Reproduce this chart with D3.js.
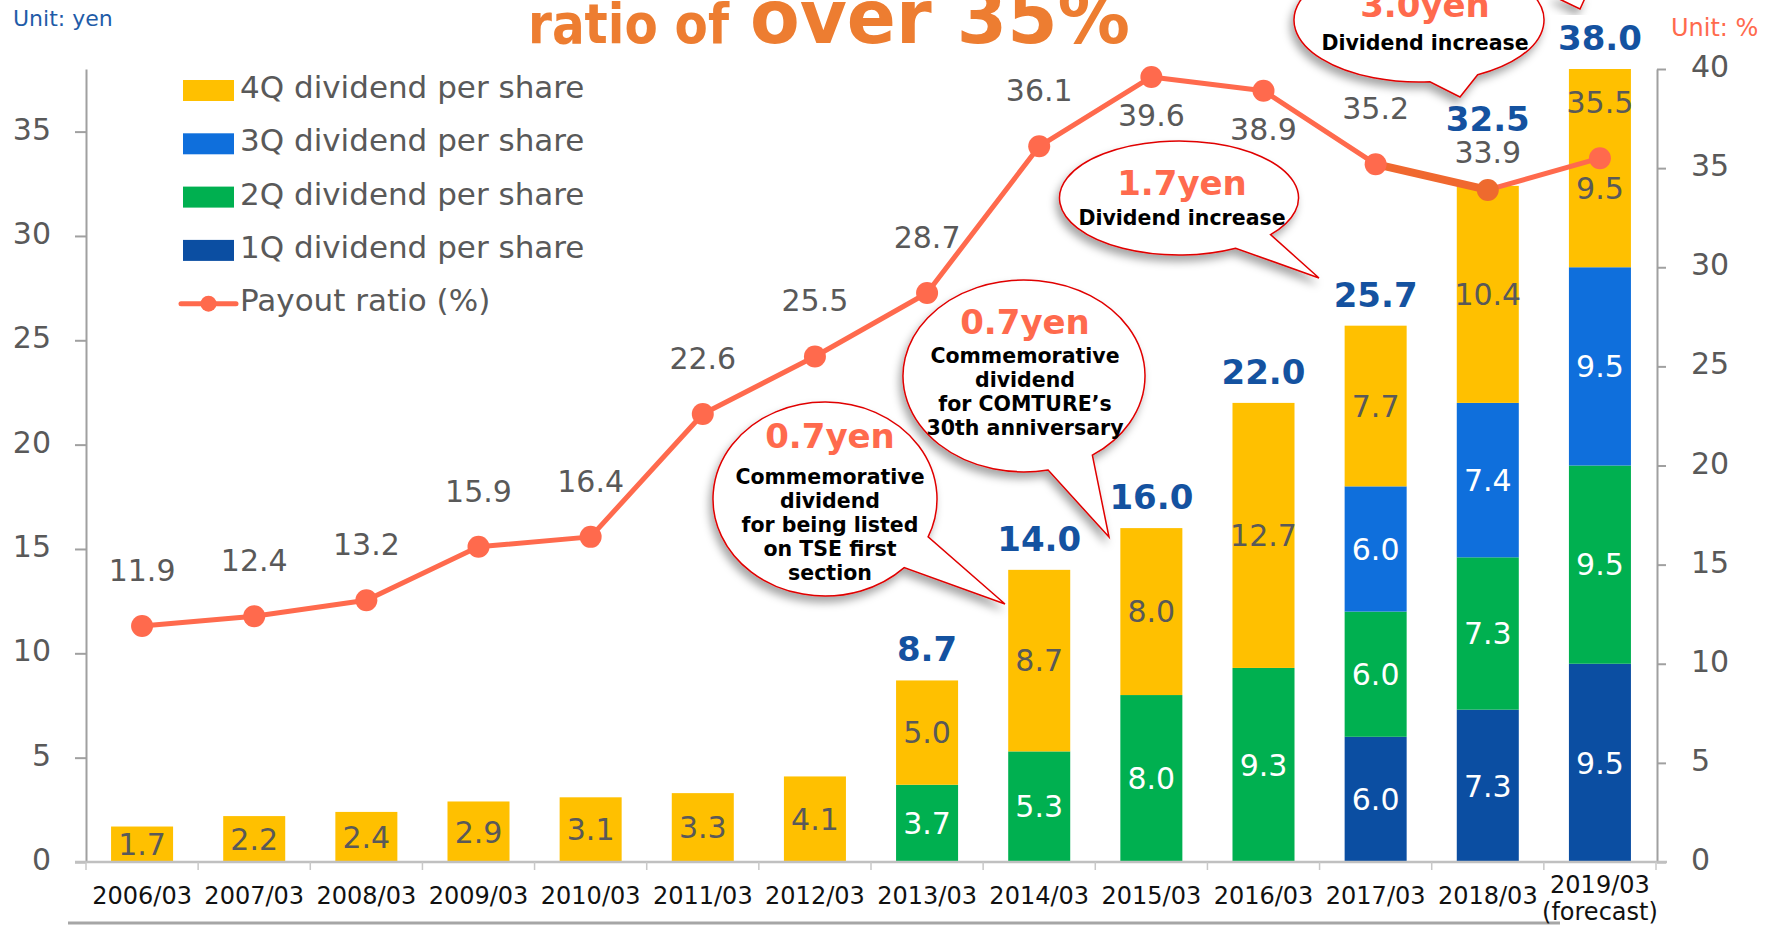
<!DOCTYPE html>
<html>
<head>
<meta charset="utf-8">
<script src="https://cdn.jsdelivr.net/npm/d3@7"></script>
<style>
  body { margin: 0; background: #fff; }
  svg text { font-family: "DejaVu Sans", Verdana, sans-serif; }
</style>
</head>
<body>
<div id="chart"></div>
<script>
// fiscal years on the x axis
const categories = ["2006/03", "2007/03", "2008/03", "2009/03", "2010/03", "2011/03", "2012/03",
                    "2013/03", "2014/03", "2015/03", "2016/03", "2017/03", "2018/03", "2019/03"];
const forecastCats = ["2019/03"];

// dividend per share by quarter (yen)
const q1 = [0, 0, 0, 0, 0, 0, 0, 0, 0, 0, 0, 6.0, 7.3, 9.5];
const q2 = [0, 0, 0, 0, 0, 0, 0, 3.7, 5.3, 8.0, 9.3, 6.0, 7.3, 9.5];
const q3 = [0, 0, 0, 0, 0, 0, 0, 0, 0, 0, 0, 6.0, 7.4, 9.5];
const q4 = [1.7, 2.2, 2.4, 2.9, 3.1, 3.3, 4.1, 5.0, 8.7, 8.0, 12.7, 7.7, 10.4, 9.5];

// annual totals printed above the bars
const totals = [null, null, null, null, null, null, null, 8.7, 14.0, 16.0, 22.0, 25.7, 32.5, 38.0];

// payout ratio (%)
const payout = [11.9, 12.4, 13.2, 15.9, 16.4, 22.6, 25.5, 28.7, 36.1, 39.6, 38.9, 35.2, 33.9, 35.5];
// the stretch of the payout line drawn heavier
const emphasis = ["2017/03", "2018/03"];

const leftTicks = [0, 5, 10, 15, 20, 25, 30, 35];
const rightTicks = [0, 5, 10, 15, 20, 25, 30, 35, 40];

const W = 1771, H = 925;
const colors = { q1: "#0B4EA2", q2: "#00B050", q3: "#0F6FDC", q4: "#FFC000" };
const lineColor = "#FF6A4D";
const grey = "#595959";

const svg = d3.select("#chart").append("svg")
    .attr("width", W)
    .attr("height", H)
    .style("background", "#fff");

const defs = svg.append("defs");
defs.append("filter")
    .attr("id", "shadow")
    .attr("x", "-30%").attr("y", "-30%")
    .attr("width", "160%").attr("height", "170%")
  .append("feDropShadow")
    .attr("dx", -3).attr("dy", 6)
    .attr("stdDeviation", 4)
    .attr("flood-color", "#000")
    .attr("flood-opacity", 0.35);

// scales
const x = d3.scaleBand()
    .domain(categories)
    .range([86, 1656])
    .paddingInner(0.447)
    .paddingOuter(0.2235);
const yL = d3.scaleLinear().domain([0, 38]).range([862, 69]);
const yR = d3.scaleLinear().domain([0, 40]).range([862, 69]);
const bw = x.bandwidth();
const cx = c => x(c) + bw / 2;

// stacked bars
const rows = categories.map((c, i) => ({ cat: c, q1: q1[i], q2: q2[i], q3: q3[i], q4: q4[i] }));
const keys = ["q1", "q2", "q3", "q4"];
const series = d3.stack().keys(keys)(rows);

const barG = svg.append("g").attr("class", "bars");
series.forEach(s => {
    barG.selectAll(null)
        .data(s.filter(d => d[1] - d[0] > 0))
        .enter().append("rect")
        .attr("x", d => x(d.data.cat))
        .attr("width", bw)
        .attr("y", d => yL(d[1]))
        .attr("height", d => yL(d[0]) - yL(d[1]))
        .attr("fill", colors[s.key]);
});

// slide bottom rule
svg.append("line")
    .attr("x1", 68).attr("x2", 1560)
    .attr("y1", 923).attr("y2", 923)
    .attr("stroke", "#A6A6A6")
    .attr("stroke-width", 3);

// left axis
const axL = svg.append("g")
    .attr("transform", "translate(86,0)")
    .call(d3.axisLeft(yL).tickValues(leftTicks).tickSize(11).tickSizeOuter(0).tickPadding(24));
// right axis
const axR = svg.append("g")
    .attr("transform", "translate(1657,0)")
    .call(d3.axisRight(yR).tickValues(rightTicks).tickSize(9).tickSizeOuter(0).tickPadding(25));

[axL, axR].forEach(ax => {
    ax.selectAll("path, line").attr("stroke", "#A0A0A0").attr("stroke-width", 2);
    ax.selectAll("text")
        .attr("fill", grey)
        .style("font-size", "30px")
        .attr("dy", "0.25em");
});

// bottom axis: line, boundary ticks, labels
svg.append("line")
    .attr("x1", 75).attr("x2", 1667)
    .attr("y1", 862).attr("y2", 862)
    .attr("stroke", "#C0C0C0")
    .attr("stroke-width", 2.5);

const gap = (x.step() - bw) / 2;
const bounds = categories.map(c => x(c) - gap).concat([x(categories[categories.length - 1]) + bw + gap]);
svg.append("g").selectAll("line")
    .data(bounds)
    .enter().append("line")
    .attr("x1", d => d).attr("x2", d => d)
    .attr("y1", 862).attr("y2", 870)
    .attr("stroke", "#C8C8C8")
    .attr("stroke-width", 1.5);

const axB = svg.append("g")
    .attr("transform", "translate(0,862)")
    .call(d3.axisBottom(x).tickSize(0).tickPadding(25));
axB.select(".domain").remove();
axB.selectAll("text")
    .attr("fill", "#111")
    .style("font-size", "24px");
axB.selectAll(".tick")
    .filter(d => forecastCats.includes(d))
    .select("text")
    .attr("y", null).attr("dy", null)
    .text(null)
    .call(t => {
        t.append("tspan").attr("x", 0).attr("y", 31).text(d => d);
        t.append("tspan").attr("x", 0).attr("y", 58).text("(forecast)");
    });

// payout ratio line
const pts = categories.map((c, i) => ({ cat: c, v: payout[i], px: cx(c), py: yR(payout[i]) }));
const line = d3.line().x(d => d.px).y(d => d.py);

svg.append("path")
    .datum(pts)
    .attr("fill", "none")
    .attr("stroke", lineColor)
    .attr("stroke-width", 5)
    .attr("stroke-linejoin", "round")
    .attr("d", line);

svg.append("path")
    .datum(pts.filter(p => emphasis.includes(p.cat)))
    .attr("fill", "none")
    .attr("stroke", "#F0682F")
    .attr("stroke-width", 8)
    .attr("d", line);

svg.append("g").selectAll("circle")
    .data(pts)
    .enter().append("circle")
    .attr("cx", d => d.px)
    .attr("cy", d => d.py)
    .attr("r", 11)
    .attr("fill", d => d.cat === emphasis[emphasis.length - 1] ? "#EE6A2E" : lineColor);

// segment labels (nudged below the payout dot when they would overlap it)
const segLabels = [];
series.forEach(s => {
    s.forEach((d, i) => {
        if (d[1] - d[0] <= 0) return;
        let cy = (yL(d[0]) + yL(d[1])) / 2;
        if (Math.abs(cy - pts[i].py) < 20) cy = pts[i].py + 30;
        segLabels.push({ x: cx(d.data.cat), y: cy, v: d[1] - d[0], key: s.key });
    });
});
svg.append("g").selectAll("text")
    .data(segLabels)
    .enter().append("text")
    .attr("x", d => d.x)
    .attr("y", d => d.y)
    .attr("dy", "0.36em")
    .attr("text-anchor", "middle")
    .attr("fill", d => d.key === "q4" ? grey : "#fff")
    .style("font-size", "30px")
    .text(d => d.v.toFixed(1));

// payout labels: above the dot, below if it would run into the title area
pts.forEach(p => {
    p.ly = p.py - 45 - 22 < 70 ? p.py + 49 : p.py - 45;
});

// totals above the bars; when a total meets the payout label, pull the
// payout label closer to its dot and lift the total above it
const totLabels = categories.map((c, i) => {
    if (totals[i] == null) return null;
    const top = yL(q1[i] + q2[i] + q3[i] + q4[i]);
    let y = top - 19;
    const p = pts[i];
    if (p.ly < p.py && y - 26 < p.ly + 8 && y > p.ly - 30) {
        p.ly = p.py - 27;
        y = p.ly - 32;
    }
    return { x: cx(c), y: y, v: totals[i] };
}).filter(d => d);

svg.append("g").selectAll("text")
    .data(pts)
    .enter().append("text")
    .attr("x", d => d.px)
    .attr("y", d => d.ly)
    .attr("text-anchor", "middle")
    .attr("fill", grey)
    .style("font-size", "30px")
    .text(d => d.v.toFixed(1));

svg.append("g").selectAll("text")
    .data(totLabels)
    .enter().append("text")
    .attr("x", d => d.x)
    .attr("y", d => d.y)
    .attr("text-anchor", "middle")
    .attr("fill", "#1452A0")
    .attr("font-weight", "bold")
    .style("font-size", "34px")
    .text(d => d.v.toFixed(1));

// legend
const legendItems = [
    { label: "4Q dividend per share", color: colors.q4 },
    { label: "3Q dividend per share", color: colors.q3 },
    { label: "2Q dividend per share", color: colors.q2 },
    { label: "1Q dividend per share", color: colors.q1 },
    { label: "Payout ratio (%)", line: true }
];
const legend = svg.append("g").attr("transform", "translate(183,90.5)");
legendItems.forEach((d, i) => {
    const g = legend.append("g").attr("transform", `translate(0,${i * 53.3})`);
    if (d.line) {
        g.append("line").attr("x1", -2).attr("x2", 53).attr("y1", 0).attr("y2", 0)
            .attr("stroke", lineColor).attr("stroke-width", 5).attr("stroke-linecap", "round");
        g.append("circle").attr("cx", 25.5).attr("cy", 0).attr("r", 8).attr("fill", lineColor);
    } else {
        g.append("rect").attr("x", 0).attr("y", -10.5).attr("width", 51).attr("height", 21).attr("fill", d.color);
    }
    g.append("text")
        .attr("x", 57)
        .attr("y", 7.5)
        .attr("fill", grey)
        .style("font-size", "31px")
        .text(d.label);
});

// speech-bubble callouts
const callouts = [
    { cx: 825, cy: 499, rx: 112, ry: 97, a0: 23, a1: 45, tip: [1005, 604],
      head: "0.7yen", headY: 448, tx: 830,
      lines: ["Commemorative", "dividend", "for being listed", "on TSE first", "section"], lineY: 484 },
    { cx: 1024, cy: 376, rx: 121, ry: 96, a0: 55.6, a1: 78.5, tip: [1109, 537],
      head: "0.7yen", headY: 334, tx: 1025,
      lines: ["Commemorative", "dividend", "for COMTURE’s", "30th anniversary"], lineY: 363 },
    { cx: 1179, cy: 198, rx: 119.5, ry: 57, a0: 40, a1: 61.7, tip: [1319, 278],
      head: "1.7yen", headY: 195, tx: 1182,
      lines: ["Dividend increase"], lineY: 225 },
    { cx: 1419, cy: 20, rx: 125, ry: 62, a0: 62, a1: 85, tip: [1460, 97],
      head: "3.0yen", headY: 17, tx: 1425,
      lines: ["Dividend increase"], lineY: 50 }
];

function bubblePath(b) {
    const pt = a => [b.cx + b.rx * Math.cos(a * Math.PI / 180), b.cy + b.ry * Math.sin(a * Math.PI / 180)];
    const A = pt(b.a0), B = pt(b.a1);
    return `M${A} A${b.rx},${b.ry} 0 1 0 ${B} L${b.tip} Z`;
}

const bubbles = svg.append("g").attr("class", "callouts");
// stray tail of a bubble above the slide
bubbles.append("path")
    .attr("d", "M1553,-4 L1580,9 L1586,-4 Z")
    .attr("fill", "#fff")
    .attr("stroke", "#E00000")
    .attr("stroke-width", 1.5)
    .attr("filter", "url(#shadow)");

callouts.forEach(b => {
    const g = bubbles.append("g");
    g.append("path")
        .attr("d", bubblePath(b))
        .attr("fill", "#fff")
        .attr("stroke", "#E00000")
        .attr("stroke-width", 1.5)
        .attr("filter", "url(#shadow)");
    g.append("text")
        .attr("x", b.tx)
        .attr("y", b.headY)
        .attr("text-anchor", "middle")
        .attr("fill", lineColor)
        .attr("font-weight", "bold")
        .style("font-size", "34px")
        .text(b.head);
    g.selectAll(null)
        .data(b.lines)
        .enter().append("text")
        .attr("x", b.tx)
        .attr("y", (d, i) => b.lineY + i * 24)
        .attr("text-anchor", "middle")
        .attr("fill", "#000")
        .attr("font-weight", "bold")
        .style("font-size", "20.5px")
        .text(d => d);
});

// title (cut off at the top of the slide) and units
svg.append("text")
    .attr("x", 528).attr("y", 43)
    .attr("fill", "#ED7D31")
    .attr("font-weight", "bold")
    .style("font-size", "55px")
    .attr("textLength", 201)
    .attr("lengthAdjust", "spacingAndGlyphs")
    .text("ratio of");
svg.append("text")
    .attr("x", 750).attr("y", 43)
    .attr("fill", "#ED7D31")
    .attr("font-weight", "bold")
    .style("font-size", "75px")
    .attr("textLength", 380)
    .attr("lengthAdjust", "spacingAndGlyphs")
    .text("over 35%");

svg.append("text")
    .attr("x", 13).attr("y", 26)
    .attr("fill", "#1F5CA8")
    .style("font-size", "22px")
    .text("Unit: yen");
svg.append("text")
    .attr("x", 1671).attr("y", 36)
    .attr("fill", lineColor)
    .style("font-size", "24px")
    .text("Unit: %");
</script>
</body>
</html>
